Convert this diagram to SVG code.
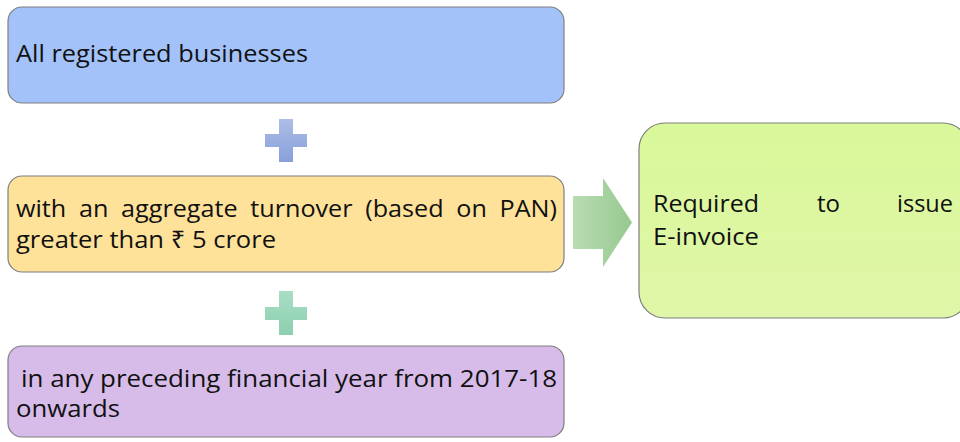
<svg xmlns="http://www.w3.org/2000/svg" width="960" height="442" viewBox="0 0 960 442">
<style>
.box{stroke:#7f7f7f;stroke-width:1.2}
.t{font-family:"Open Sans","Noto Sans","DejaVu Sans",sans-serif;font-size:24.5px;fill:#111}
</style>
<defs>
<linearGradient id="gp1" x1="0" y1="0" x2="0" y2="1"><stop offset="0" stop-color="#adbde6"/><stop offset="1" stop-color="#88a0da"/></linearGradient>
<linearGradient id="gp2" x1="0" y1="0" x2="0" y2="1"><stop offset="0" stop-color="#a9dec6"/><stop offset="1" stop-color="#8ccfae"/></linearGradient>
<linearGradient id="ga" x1="0" y1="0" x2="1" y2="0"><stop offset="0" stop-color="#b9dcb3"/><stop offset="1" stop-color="#96c98f"/></linearGradient>
<linearGradient id="gg" x1="0" y1="0" x2="0" y2="1"><stop offset="0" stop-color="#d9f89a"/><stop offset="1" stop-color="#e0f6a8"/></linearGradient>
</defs>
<g id="node-businesses">
<rect class="box" x="8" y="7" width="556" height="96" rx="14" fill="#a3c2fa"/>
<text class="t" x="16" y="62" textLength="292" lengthAdjust="spacingAndGlyphs">All registered businesses</text>
</g>
<g id="node-turnover">
<rect class="box" x="8" y="176" width="556" height="96" rx="14" fill="#fee29a"/>
<text class="t" x="16" y="217" textLength="541" lengthAdjust="spacingAndGlyphs" word-spacing="6">with an aggregate turnover (based on PAN)</text>
<text class="t" x="16" y="248" textLength="260" lengthAdjust="spacingAndGlyphs">greater than ₹ 5 crore</text>
</g>
<g id="node-year">
<rect class="box" x="8" y="346" width="556" height="91" rx="14" fill="#d7bcea"/>
<text class="t" x="21" y="387" textLength="536" lengthAdjust="spacingAndGlyphs">in any preceding financial year from 2017-18</text>
<text class="t" x="16" y="417" textLength="104" lengthAdjust="spacingAndGlyphs">onwards</text>
</g>
<g id="node-einvoice">
<rect class="box" x="639" y="123" width="330" height="195" rx="26" fill="url(#gg)"/>
<text class="t" x="653" y="212" textLength="106" lengthAdjust="spacingAndGlyphs">Required</text>
<text class="t" x="817" y="212" textLength="23" lengthAdjust="spacingAndGlyphs">to</text>
<text class="t" x="897" y="212" textLength="56" lengthAdjust="spacingAndGlyphs">issue</text>
<text class="t" x="653" y="245" textLength="106" lengthAdjust="spacingAndGlyphs">E-invoice</text>
</g>
<g id="connectors">
<path d="M279 119h14v15h14v13h-14v15h-14v-15h-14v-13h14z" fill="url(#gp1)"/>
<path d="M279 291h14v16h14v13h-14v15h-14v-15h-14v-13h14z" fill="url(#gp2)"/>
<path d="M573 196h30v-18l29 44.5l-29 44.5v-18h-30z" fill="url(#ga)"/>
</g>
</svg>
